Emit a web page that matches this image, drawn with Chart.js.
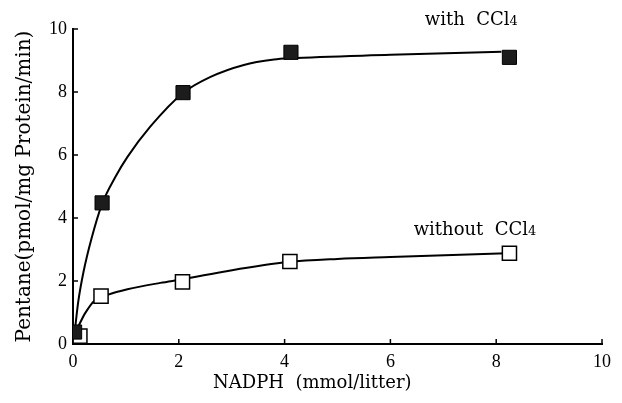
<!DOCTYPE html>
<html>
<head>
<meta charset="utf-8">
<script src="https://cdn.jsdelivr.net/npm/chart.js@4"></script>
<style>
  html, body { margin: 0; padding: 0; background: #fff; }
  #wrap { width: 622px; height: 403px; }
</style>
</head>
<body>
<div id="wrap"><canvas id="grafico" width="622" height="403"></canvas></div>
<script>
// measured points (NADPH mmol/l vs pentane pmol/mg protein/min)
const xWith = [0.03, 0.55, 2.08, 4.12, 8.25];
const yWith = [0.38, 4.48, 7.98, 9.26, 9.1];
const xWithout = [0.13, 0.53, 2.07, 4.1, 8.25];
const yWithout = [0.25, 1.52, 1.97, 2.62, 2.88];

// fitted curves
const curveWithX = [0.03, 0.1, 0.2, 0.35, 0.55, 0.8, 1.03, 1.46, 2.08, 2.6, 3.23, 3.8, 4.1, 6.0, 8.1];
const curveWithY = [0.35, 1.35, 2.3, 3.35, 4.45, 5.3, 5.94, 6.9, 7.97, 8.48, 8.86, 9.03, 9.07, 9.18, 9.28];
const curveWithoutX = [0.07, 0.23, 0.42, 0.65, 1.03, 1.65, 2.09, 2.93, 4.07, 5.0, 6.0, 8.2];
const curveWithoutY = [0.45, 0.98, 1.4, 1.56, 1.74, 1.94, 2.06, 2.32, 2.6, 2.7, 2.76, 2.88];

const xTicks = [0, 2, 4, 6, 8, 10];
const yTicks = [0, 2, 4, 6, 8, 10];

const pts = (xs, ys) => xs.map((x, i) => ({x: x, y: ys[i]}));
const SERIF = "'Liberation Serif', 'DejaVu Serif', serif";
const WIDE = "'DejaVu Serif', serif";

// inward tick marks, x title and labels next to the curves
const extras = {
  id: 'extras',
  afterDraw(chart) {
    const c = chart.ctx, sx = chart.scales.x, sy = chart.scales.y;
    const x0 = sx.getPixelForValue(0), y0 = sy.getPixelForValue(0);
    c.save();
    c.strokeStyle = '#000';
    c.lineWidth = 1.5;
    xTicks.forEach(t => {
      const px = sx.getPixelForValue(t);
      c.beginPath(); c.moveTo(px, y0); c.lineTo(px, y0 - 5); c.stroke();
    });
    yTicks.forEach(t => {
      const py = sy.getPixelForValue(t);
      c.beginPath(); c.moveTo(x0, py); c.lineTo(x0 + 5, py); c.stroke();
    });

    c.fillStyle = '#000';
    c.textAlign = 'left';
    c.textBaseline = 'middle';
    c.font = '18px ' + WIDE;
    c.fillText('NADPH  (mmol/litter)', 213, 383);

    const label = (txt, xv, yv) => {
      const px = sx.getPixelForValue(xv), py = sy.getPixelForValue(yv);
      c.textBaseline = 'alphabetic';
      c.font = '18px ' + WIDE;
      c.fillText(txt, px, py);
      const w = c.measureText(txt).width;
      c.font = '13px ' + WIDE;
      c.fillText('4', px + w, py);
    };
    label('with  CCl', 6.65, 10.13);
    label('without  CCl', 6.44, 3.46);
    c.restore();
  }
};

new Chart(document.getElementById('grafico').getContext('2d'), {
  type: 'scatter',
  data: {
    datasets: [
      { type: 'line', data: pts(curveWithX, curveWithY), borderColor: '#000', borderWidth: 2,
        pointRadius: 0, cubicInterpolationMode: 'monotone', fill: false, order: 3 },
      { type: 'line', data: pts(curveWithoutX, curveWithoutY), borderColor: '#000', borderWidth: 2,
        pointRadius: 0, cubicInterpolationMode: 'monotone', fill: false, order: 3 },
      { label: 'with CCl4', data: pts(xWith, yWith), pointStyle: 'rect', pointRadius: 10,
        backgroundColor: '#1c1c1c', borderColor: '#000', borderWidth: 1, order: 1 },
      { label: 'without CCl4', data: pts(xWithout, yWithout), pointStyle: 'rect', pointRadius: 10,
        backgroundColor: '#fff', borderColor: '#000', borderWidth: 1.5, order: 1 }
    ]
  },
  options: {
    responsive: false,
    animation: false,
    layout: { padding: { left: 0, right: 20, top: 29, bottom: 0 } },
    plugins: { legend: { display: false }, tooltip: { enabled: false } },
    scales: {
      x: {
        type: 'linear', min: 0, max: 10,
        afterBuildTicks: s => { s.ticks = xTicks.map(v => ({value: v})); },
        afterFit: s => { s.height = 59; },
        grid: { display: false, drawTicks: false },
        border: { display: true, color: '#000', width: 2 },
        ticks: { color: '#000', font: { family: SERIF, size: 18 }, padding: 7 }
      },
      y: {
        type: 'linear', min: 0, max: 10,
        afterBuildTicks: s => { s.ticks = yTicks.map(v => ({value: v})); },
        afterFit: s => { s.width = 73; },
        grid: { display: false, drawTicks: false },
        border: { display: true, color: '#000', width: 2 },
        ticks: { color: '#000', font: { family: SERIF, size: 18 }, padding: 6 },
        title: { display: true, text: 'Pentane(pmol/mg Protein/min)', color: '#000',
                 font: { family: WIDE, size: 20 }, padding: { top: 13, bottom: 0 } }
      }
    }
  },
  plugins: [extras]
});
</script>
</body>
</html>
